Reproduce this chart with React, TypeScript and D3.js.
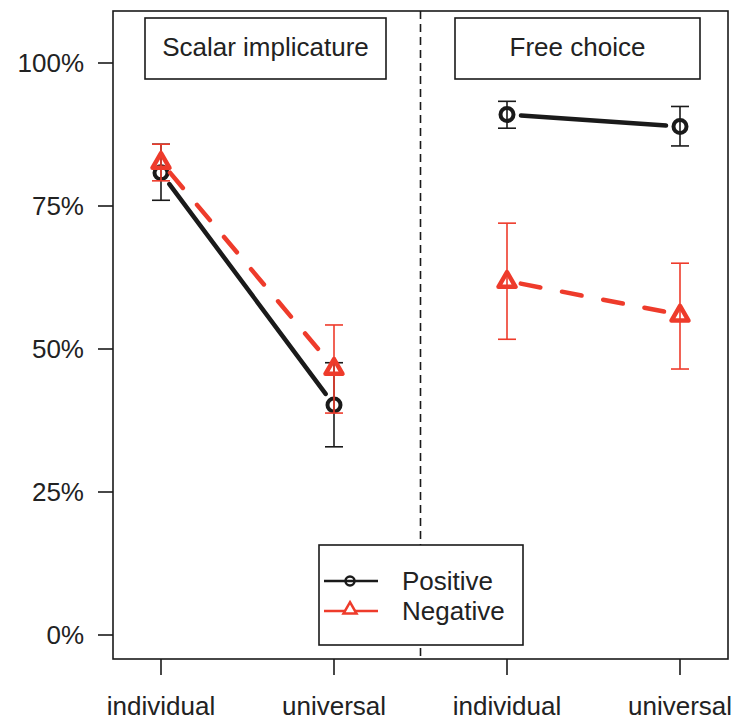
import React from 'react';
import * as d3 from 'd3';

// data
const panels = ['Scalar implicature', 'Free choice'];
const categories = ['individual', 'universal', 'individual', 'universal'];
const positiveMean = [0.808, 0.402, 0.91, 0.889];
const positiveLow = [0.76, 0.329, 0.886, 0.855];
const positiveHigh = [0.858, 0.476, 0.933, 0.924];
const negativeMean = [0.827, 0.467, 0.619, 0.56];
const negativeLow = [0.794, 0.388, 0.517, 0.465];
const negativeHigh = [0.858, 0.542, 0.72, 0.65];
const yTicks = [0, 0.25, 0.5, 0.75, 1];
const legendLabels = ['Positive', 'Negative'];

const RED = '#ee3b2b';
const INK = '#1a1a1a';
const FONT = '"Liberation Sans", Arial, Helvetica, sans-serif';

function trianglePath(cx: number, cy: number, side: number) {
  const h = side * Math.sqrt(3) / 2;
  const top = cy - h * 0.6;
  const bot = cy + h * 0.4;
  return `M${cx},${top}L${cx + side / 2},${bot}L${cx - side / 2},${bot}Z`;
}

// segment with gaps around the points (like R type="b")
function gapSegment(x1: number, y1: number, x2: number, y2: number, gap: number) {
  const dx = x2 - x1, dy = y2 - y1;
  const len = Math.sqrt(dx * dx + dy * dy);
  const ux = dx / len, uy = dy / len;
  return { x1: x1 + ux * gap, y1: y1 + uy * gap, x2: x2 - ux * gap, y2: y2 - uy * gap };
}

export default function App() {
  const width = 736, height = 721;

  const frame = { left: 113, right: 728, top: 11, bottom: 659 };

  const keys = categories.map((c, i) => i);
  const x = d3.scalePoint<number>().domain(keys).range([161, 680]);
  const y = d3.scaleLinear().domain([0, 1]).range([635, 63]);

  const mid = ((x(1) as number) + (x(2) as number)) / 2;

  const pairs = [[0, 1], [2, 3]];

  const series = [
    { mean: positiveMean, low: positiveLow, high: positiveHigh, color: INK, dash: undefined as string | undefined, kind: 'circle' },
    { mean: negativeMean, low: negativeLow, high: negativeHigh, color: RED, dash: '20 22', kind: 'triangle' },
  ];

  const titleBoxes = [
    { x0: 145, x1: 386 },
    { x0: 455, x1: 700 },
  ];

  return (
    <svg width={width} height={height} style={{ position: 'absolute', left: 0, top: 0, background: '#fff' }}>
      <rect x={0} y={0} width={width} height={height} fill="#fff" />

      {/* divider */}
      <line x1={mid} x2={mid} y1={frame.top} y2={frame.bottom} stroke={INK} strokeWidth={1.6} strokeDasharray="8 5" />

      {/* frame */}
      <rect x={frame.left} y={frame.top} width={frame.right - frame.left} height={frame.bottom - frame.top}
            fill="none" stroke={INK} strokeWidth={1.6} />

      {/* y axis */}
      {yTicks.map(t => (
        <g key={'y' + t}>
          <line x1={frame.left - 15} x2={frame.left} y1={y(t)} y2={y(t)} stroke={INK} strokeWidth={1.6} />
          <text x={frame.left - 29} y={y(t) + 9} textAnchor="end" fontFamily={FONT} fontSize={26} fill="#222">
            {d3.format('.0%')(t)}
          </text>
        </g>
      ))}

      {/* x axis */}
      {keys.map(k => (
        <g key={'x' + k}>
          <line x1={x(k)} x2={x(k)} y1={frame.bottom} y2={frame.bottom + 16} stroke={INK} strokeWidth={1.6} />
          <text x={x(k)} y={715} textAnchor="middle" fontFamily={FONT} fontSize={26} fill="#222">
            {categories[k]}
          </text>
        </g>
      ))}

      {/* panel titles */}
      {panels.map((p, i) => (
        <g key={p}>
          <rect x={titleBoxes[i].x0} y={18} width={titleBoxes[i].x1 - titleBoxes[i].x0} height={61}
                fill="#fff" stroke={INK} strokeWidth={1.6} />
          <text x={(titleBoxes[i].x0 + titleBoxes[i].x1) / 2} y={56} textAnchor="middle"
                fontFamily={FONT} fontSize={26} fill="#222">{p}</text>
        </g>
      ))}

      {/* series */}
      {series.map((s, si) => (
        <g key={'s' + si}>
          {pairs.map(([a, b]) => {
            const seg = gapSegment(x(a) as number, y(s.mean[a]), x(b) as number, y(s.mean[b]), 14);
            return (
              <line key={'l' + a} {...seg} stroke={s.color} strokeWidth={4.5}
                    strokeDasharray={s.dash} strokeLinecap="round" />
            );
          })}
          {keys.map(k => {
            const cx = x(k) as number;
            return (
              <g key={'e' + k}>
                <line x1={cx} x2={cx} y1={y(s.low[k])} y2={y(s.high[k])} stroke={s.color} strokeWidth={1.6} />
                <line x1={cx - 9} x2={cx + 9} y1={y(s.low[k])} y2={y(s.low[k])} stroke={s.color} strokeWidth={1.6} />
                <line x1={cx - 9} x2={cx + 9} y1={y(s.high[k])} y2={y(s.high[k])} stroke={s.color} strokeWidth={1.6} />
              </g>
            );
          })}
          {keys.map(k => {
            const cx = x(k) as number;
            const cy = y(s.mean[k]);
            return s.kind === 'circle'
              ? <circle key={'p' + k} cx={cx} cy={cy} r={6.5} fill="none" stroke={s.color} strokeWidth={4} />
              : <path key={'p' + k} d={trianglePath(cx, cy, 17)} fill="none" stroke={s.color}
                      strokeWidth={4.5} strokeLinejoin="round" />;
          })}
        </g>
      ))}

      {/* legend */}
      <g>
        <rect x={319} y={545} width={204} height={100} fill="#fff" stroke={INK} strokeWidth={1.6} />
        <line x1={324} x2={378} y1={581} y2={581} stroke={INK} strokeWidth={2.5} />
        <circle cx={350} cy={581} r={4.5} fill="none" stroke={INK} strokeWidth={2.5} />
        <line x1={324} x2={378} y1={611} y2={611} stroke={RED} strokeWidth={2.5} />
        <path d={trianglePath(350, 609, 13)} fill="#fff" stroke={RED} strokeWidth={2.5} />
        {legendLabels.map((l, i) => (
          <text key={l} x={402} y={590 + i * 30} fontFamily={FONT} fontSize={26} fill="#222">{l}</text>
        ))}
      </g>
    </svg>
  );
}
